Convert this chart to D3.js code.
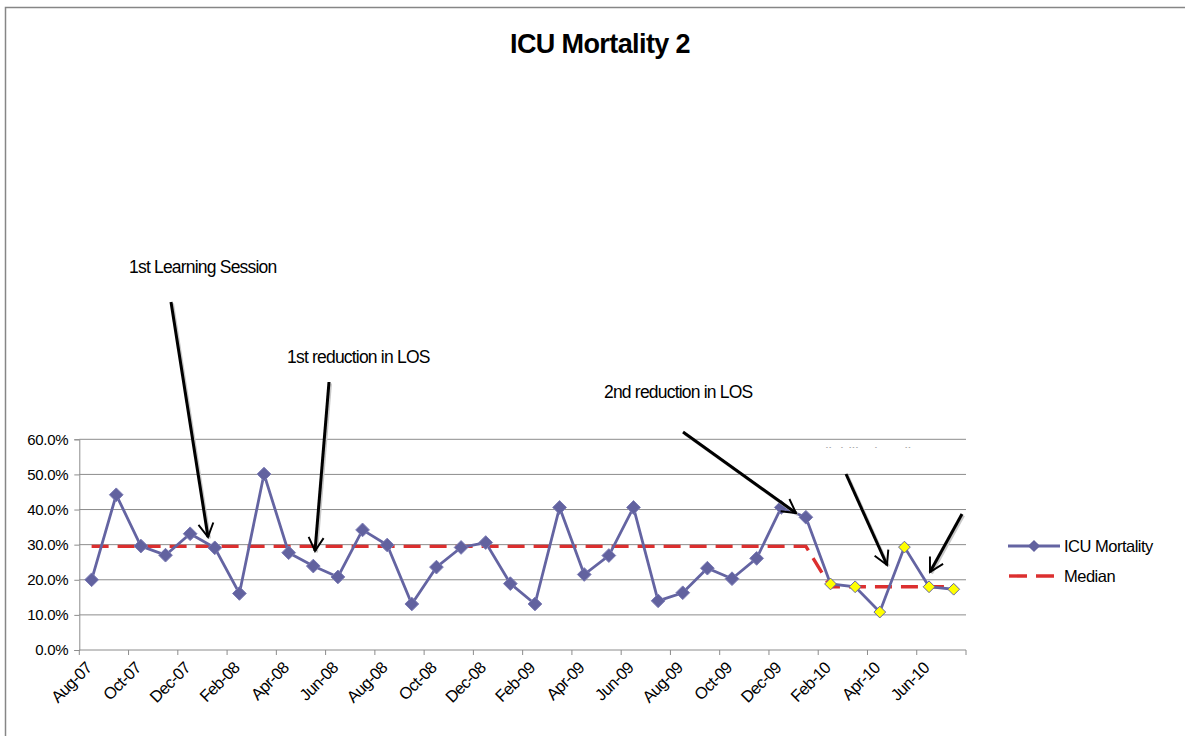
<!DOCTYPE html>
<html>
<head>
<meta charset="utf-8">
<script src="https://cdn.jsdelivr.net/npm/d3@7"></script>
<style>
  body { margin: 0; background: #fff; }
  svg { display: block; font-family: "Liberation Sans", Arial, sans-serif; }
</style>
</head>
<body>
<script>
// months shown on the category axis
var months = ["Aug-07","Sep-07","Oct-07","Nov-07","Dec-07","Jan-08","Feb-08","Mar-08","Apr-08","May-08",
  "Jun-08","Jul-08","Aug-08","Sep-08","Oct-08","Nov-08","Dec-08","Jan-09","Feb-09","Mar-09",
  "Apr-09","May-09","Jun-09","Jul-09","Aug-09","Sep-09","Oct-09","Nov-09","Dec-09","Jan-10",
  "Feb-10","Mar-10","Apr-10","May-10","Jun-10","Jul-10"];

// ICU mortality (%)
var mortality = [20.0, 44.2, 29.6, 27.0, 33.1, 29.1, 16.1, 50.1, 27.7, 23.9,
  20.8, 34.2, 29.9, 13.1, 23.6, 29.2, 30.6, 18.9, 13.1, 40.6,
  21.5, 26.9, 40.6, 14.0, 16.3, 23.3, 20.3, 26.1, 40.6, 37.8,
  18.8, 18.0, 10.8, 29.3, 18.0, 17.3];

// median line
var median = [29.5, 29.5, 29.5, 29.5, 29.5, 29.5, 29.5, 29.5, 29.5, 29.5,
  29.5, 29.5, 29.5, 29.5, 29.5, 29.5, 29.5, 29.5, 29.5, 29.5,
  29.5, 29.5, 29.5, 29.5, 29.5, 29.5, 29.5, 29.5, 29.5, 29.5,
  18.0, 18.0, 18.0, 18.0, 18.0, 18.0];

// points drawn with yellow markers (new median period)
var highlightFrom = "Feb-10";

var yTicks = [0, 10, 20, 30, 40, 50, 60];

var annotations = [
  { text: "1st Learning Session", x: 129, y: 273 },
  { text: "1st reduction in LOS", x: 287, y: 363 },
  { text: "2nd reduction in LOS", x: 604, y: 398 }
];
var arrows = [
  [[171, 302], [208, 537]],
  [[329, 382], [315, 551]],
  [[683, 432], [796, 513]],
  [[846, 474], [887, 565]],
  [[962, 514], [930, 572]]
];

var W = 1185, H = 736;
var plotL = 79.3, plotR = 966, plotT = 439.3, plotB = 650;

var svg = d3.select("body").append("svg")
    .attr("width", W)
    .attr("height", H);

// chart border
svg.append("rect")
    .attr("x", 5.5).attr("y", 7.5)
    .attr("width", W + 10).attr("height", H + 10)
    .attr("fill", "none")
    .attr("stroke", "#868686")
    .attr("stroke-width", 1.5);

var x = d3.scaleBand()
    .domain(months)
    .range([plotL, plotR])
    .padding(0);

var y = d3.scaleLinear()
    .domain([0, 60])
    .range([plotB, plotT]);

var cx = function (m) { return x(m) + x.bandwidth() / 2; };

// gridlines
svg.append("g").selectAll("line")
    .data(yTicks.slice(1))
    .enter().append("line")
    .attr("x1", plotL).attr("x2", plotR)
    .attr("y1", function (d) { return y(d); })
    .attr("y2", function (d) { return y(d); })
    .attr("stroke", "#8c8c8c")
    .attr("stroke-width", 1);

// y axis
var yAxis = svg.append("g")
    .attr("transform", "translate(" + plotL + ",0)")
    .call(d3.axisLeft(y).tickValues(yTicks).tickSize(5).tickPadding(6)
        .tickFormat(function (d) { return d.toFixed(1) + "%"; }));
yAxis.select(".domain").attr("stroke", "#8c8c8c");
yAxis.selectAll(".tick line").attr("stroke", "#8c8c8c");
yAxis.selectAll("text")
    .attr("font-size", 15)
    .attr("fill", "#000")
    .attr("letter-spacing", "-0.3")
    .attr("font-family", "Liberation Sans, Arial, sans-serif");

// x axis: ticks between categories every 2 months
var xg = svg.append("g");
xg.append("line")
    .attr("x1", plotL).attr("x2", plotR)
    .attr("y1", plotB).attr("y2", plotB)
    .attr("stroke", "#8c8c8c");
var tickMonths = months.filter(function (d, i) { return i % 2 === 0; });
xg.selectAll("line.tk")
    .data(tickMonths.concat(["end"]))
    .enter().append("line")
    .attr("class", "tk")
    .attr("x1", function (d) { return d === "end" ? plotR : x(d); })
    .attr("x2", function (d) { return d === "end" ? plotR : x(d); })
    .attr("y1", plotB).attr("y2", plotB + 5)
    .attr("stroke", "#8c8c8c");
xg.selectAll("text")
    .data(tickMonths)
    .enter().append("text")
    .attr("transform", function (d) {
      return "translate(" + (cx(d) - 3) + "," + (plotB + 15) + ") rotate(-45)";
    })
    .attr("text-anchor", "end")
    .attr("dy", "0.35em")
    .attr("font-size", 16.5)
    .attr("letter-spacing", "-0.7")
    .text(function (d) { return d; });

// median line
var line = d3.line()
    .x(function (d) { return cx(d.m); })
    .y(function (d) { return y(d.v); });

var medData = months.map(function (m, i) { return { m: m, v: median[i] }; });
svg.append("path")
    .datum(medData)
    .attr("d", line)
    .attr("fill", "none")
    .attr("stroke", "#dc2f2f")
    .attr("stroke-width", 3.4)
    .attr("stroke-dasharray", "17,9");

// mortality line
var mortData = months.map(function (m, i) { return { m: m, v: mortality[i] }; });
svg.append("path")
    .datum(mortData)
    .attr("d", line)
    .attr("fill", "none")
    .attr("stroke", "#6464a2")
    .attr("stroke-width", 2.8);

var hiIdx = months.indexOf(highlightFrom);
var diamond = d3.symbol().type(d3.symbolDiamond2);

svg.append("g").selectAll("path")
    .data(mortData)
    .enter().append("path")
    .attr("transform", function (d) { return "translate(" + cx(d.m) + "," + y(d.v) + ")"; })
    .attr("d", function (d, i) { return diamond.size(i >= hiIdx ? 88 : 120)(); })
    .attr("fill", function (d, i) { return i >= hiIdx ? "#ffff00" : "#62629f"; })
    .attr("stroke", function (d, i) { return i >= hiIdx ? "#6565a3" : "#7a7ab4"; })
    .attr("stroke-width", 1);

// title
svg.append("text")
    .attr("x", 600).attr("y", 53)
    .attr("text-anchor", "middle")
    .attr("font-size", 27)
    .attr("font-weight", "bold")
    .attr("letter-spacing", "-0.6")
    .text("ICU Mortality 2");

// annotations
svg.append("g").selectAll("text")
    .data(annotations)
    .enter().append("text")
    .attr("x", function (d) { return d.x; })
    .attr("y", function (d) { return d.y; })
    .attr("font-size", 17.5)
    .attr("letter-spacing", "-0.8")
    .text(function (d) { return d.text; });

// faint, mostly hidden text box
svg.append("clipPath").attr("id", "faint")
    .append("rect").attr("x", 790).attr("y", 444).attr("width", 150).attr("height", 4);
svg.append("text")
    .attr("x", 806).attr("y", 458)
    .attr("font-size", 15)
    .attr("fill", "#aaa")
    .attr("clip-path", "url(#faint)")
    .text("Reliability bundle");

// arrows
svg.append("defs").append("marker")
    .attr("id", "head")
    .attr("viewBox", "0 0 12 12")
    .attr("refX", 10).attr("refY", 6)
    .attr("markerWidth", 6).attr("markerHeight", 6)
    .attr("markerUnits", "strokeWidth")
    .attr("orient", "auto")
    .append("path")
    .attr("d", "M1,1 L10,6 L1,11")
    .attr("fill", "none")
    .attr("stroke", "#000")
    .attr("stroke-width", 1.3);

svg.append("g").selectAll("line")
    .data(arrows)
    .enter().append("line")
    .attr("x1", function (d) { return d[0][0] + 1.5; })
    .attr("y1", function (d) { return d[0][1] + 1.5; })
    .attr("x2", function (d) { return d[1][0] + 1.5; })
    .attr("y2", function (d) { return d[1][1] + 1.5; })
    .attr("stroke", "#c8c8c8")
    .attr("stroke-width", 3);
svg.append("g").selectAll("line")
    .data(arrows)
    .enter().append("line")
    .attr("x1", function (d) { return d[0][0]; })
    .attr("y1", function (d) { return d[0][1]; })
    .attr("x2", function (d) { return d[1][0]; })
    .attr("y2", function (d) { return d[1][1]; })
    .attr("stroke", "#000")
    .attr("stroke-width", 3)
    .attr("marker-end", "url(#head)");

// legend
var lg = svg.append("g");
lg.append("line")
    .attr("x1", 1008).attr("x2", 1060).attr("y1", 546).attr("y2", 546)
    .attr("stroke", "#6464a2").attr("stroke-width", 2.8);
lg.append("path")
    .attr("transform", "translate(1034,546)")
    .attr("d", diamond.size(95)())
    .attr("fill", "#62629f");
lg.append("text")
    .attr("x", 1064).attr("y", 552)
    .attr("font-size", 16.5).attr("letter-spacing", "-0.5")
    .text("ICU Mortality");
lg.append("line")
    .attr("x1", 1009).attr("x2", 1054).attr("y1", 576).attr("y2", 576)
    .attr("stroke", "#dc2f2f").attr("stroke-width", 3.4)
    .attr("stroke-dasharray", "18,9");
lg.append("text")
    .attr("x", 1064).attr("y", 582)
    .attr("font-size", 16.5).attr("letter-spacing", "-0.5")
    .text("Median");
</script>
</body>
</html>
